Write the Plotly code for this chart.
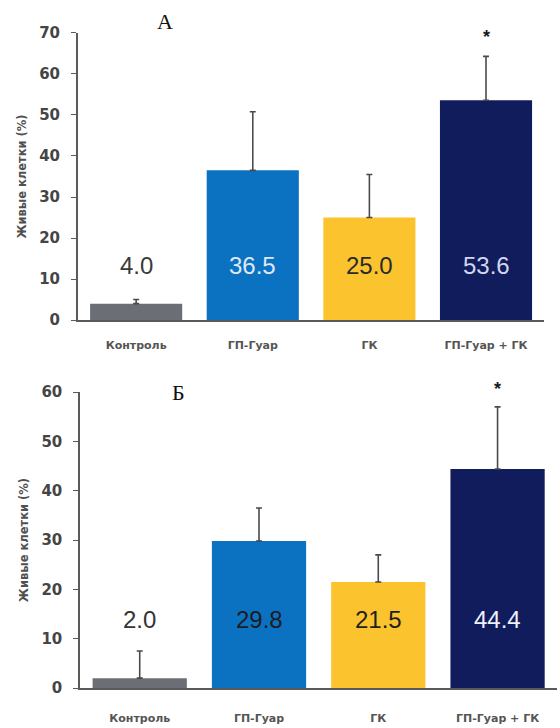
import plotly.graph_objects as go
from plotly.subplots import make_subplots

# Groups and measured viability (% live cells) for the two experiments
categories = ["Контроль", "ГП-Гуар", "ГК", "ГП-Гуар + ГК"]

values_a = [4.0, 36.5, 25.0, 53.6]
errors_a = [1.0, 14.3, 10.5, 10.7]

values_b = [2.0, 29.8, 21.5, 44.4]
errors_b = [5.5, 6.7, 5.5, 12.6]

bar_colors = ["#6b6f75", "#0b72c2", "#fbc42f", "#101c5c"]
label_colors_a = ["#3a3a3a", "#dfe8f4", "#2a2a2a", "#d4d6ee"]
label_colors_b = ["#333333", "#1c1c1c", "#1f1f1f", "#eef0fa"]

panel_titles = ["А", "Б"]
y_title = "Живые клетки (%)"

fig = make_subplots(rows=2, cols=1)

AXIS_GRAY = "#5a5a5a"
TEXT_GRAY = "#454545"


def add_panel(row, values, errors, label_colors, label_y, star_y):
    fig.add_trace(
        go.Bar(
            x=categories,
            y=values,
            marker=dict(color=bar_colors, line=dict(width=0)),
            error_y=dict(
                type="data",
                symmetric=False,
                array=errors,
                arrayminus=[0] * len(errors),
                color="#4a4a4a",
                thickness=1.6,
                width=3,
            ),
            showlegend=False,
            hoverinfo="skip",
        ),
        row=row,
        col=1,
    )
    xref = "x" if row == 1 else "x2"
    yref = "y" if row == 1 else "y2"
    for cat, v, c in zip(categories, values, label_colors):
        fig.add_annotation(
            x=cat, y=label_y, xref=xref, yref=yref,
            text=f"{v:.1f}", showarrow=False, yanchor="middle",
            font=dict(family="Liberation Sans, Arial", size=24, color=c),
        )
    # significance mark above the combined-treatment bar
    fig.add_annotation(
        x=categories[-1], y=star_y, xref=xref, yref=yref + " domain",
        text="<b>*</b>", showarrow=False, yanchor="middle",
        font=dict(family="Liberation Sans, Arial", size=18, color="#1a1a1a"),
    )


add_panel(1, values_a, errors_a, label_colors_a, label_y=13.4, star_y=0.986)
add_panel(2, values_b, errors_b, label_colors_b, label_y=13.9, star_y=1.010)

xaxis_common = dict(
    showline=True, linecolor=AXIS_GRAY, linewidth=1.6,
    ticks="", showgrid=False, zeroline=False, automargin=False,
    tickfont=dict(family="DejaVu Sans", size=11, color="#555", weight="bold"),
)
yaxis_common = dict(
    showline=True, linecolor=AXIS_GRAY, linewidth=1.6,
    ticks="outside", ticklen=5, tickwidth=1.4, tickcolor=AXIS_GRAY,
    showgrid=False, zeroline=False, dtick=10, automargin=False,
    ticklabelstandoff=8,
    tickfont=dict(family="DejaVu Sans", size=15, color=TEXT_GRAY, weight="bold"),
    title=dict(text=y_title, standoff=10,
               font=dict(family="DejaVu Sans", size=11.5, color="#505050", weight="bold")),
)

fig.update_xaxes(domain=[0.139, 0.972], ticklabelstandoff=14, **xaxis_common, row=1, col=1)
fig.update_xaxes(domain=[0.143, 0.995], ticklabelstandoff=19, **xaxis_common, row=2, col=1)
fig.update_yaxes(domain=[0.5604, 0.9547], range=[0, 70], **yaxis_common, row=1, col=1)
fig.update_yaxes(domain=[0.0549, 0.4615], range=[0, 60], **yaxis_common, row=2, col=1)

fig.update_layout(bargap=0.21)

# Panel letters
fig.add_annotation(x=0.295, y=0.970, xref="paper", yref="paper", text=panel_titles[0],
                   xanchor="center", yanchor="middle",
                   showarrow=False, font=dict(family="Liberation Serif", size=22, color="#111"))
fig.add_annotation(x=0.318, y=0.461, xref="paper", yref="paper", text=panel_titles[1],
                   xanchor="center", yanchor="middle",
                   showarrow=False, font=dict(family="Liberation Serif", size=22, color="#111"))

fig.update_layout(
    width=560, height=728,
    margin=dict(l=0, r=0, t=0, b=0, autoexpand=False),
    paper_bgcolor="white", plot_bgcolor="white",
)

fig.write_html("out.html")
